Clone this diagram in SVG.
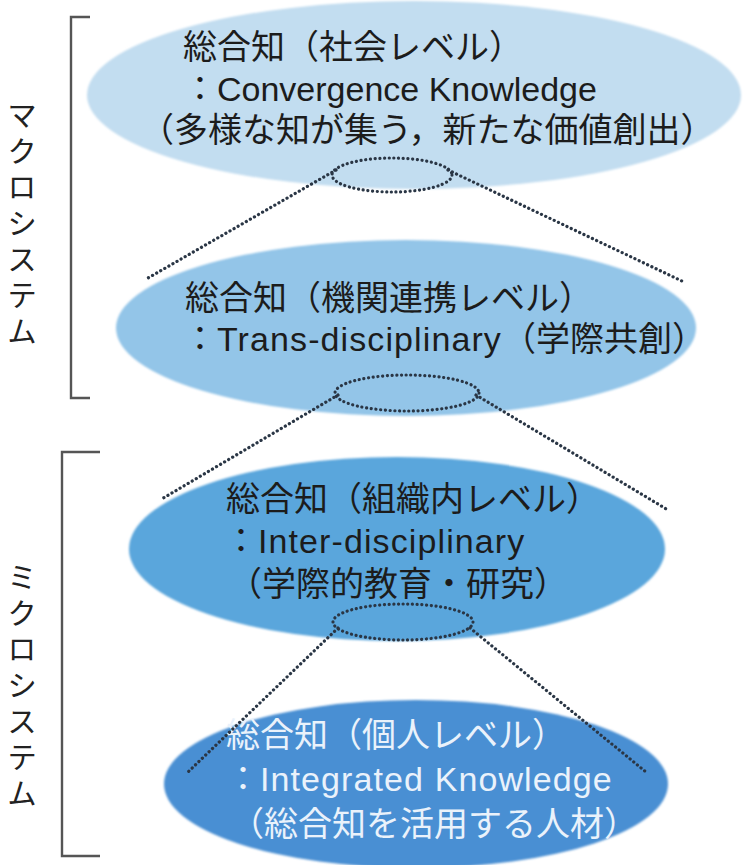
<svg xmlns="http://www.w3.org/2000/svg" width="743" height="865" viewBox="0 0 743 865">
  <style>
    .t { font-family: "Liberation Sans", "Noto Sans CJK JP", sans-serif; font-size: 34px; fill: #1c1c1c; }
    .w { fill: #eaf2fb; }
    .ls { letter-spacing: 1.1px; }
    .side { font-family: "Noto Sans CJK JP", sans-serif; font-size: 30px; fill: #222; }
    .dot { fill: none; stroke: #2a3645; stroke-width: 3.2; stroke-dasharray: 0.1 4.6; stroke-linecap: round; }
    .br { fill: none; stroke: #555; stroke-width: 2.4; }
  </style>
  <defs>
    <filter id="soft" x="-5%" y="-5%" width="110%" height="110%">
      <feGaussianBlur stdDeviation="1.2"/>
    </filter>
  </defs>
  <rect width="743" height="865" fill="#ffffff"/>

  <g id="bracket-macro">
    <path class="br" d="M90,17 H71 V398 H90"/>
    <text class="side" x="22" y="100" style="writing-mode: vertical-rl; letter-spacing: 6px;">マクロシステム</text>
  </g>
  <g id="bracket-micro">
    <path class="br" d="M100,452 H62 V856 H100"/>
    <text class="side" x="22" y="562" style="writing-mode: vertical-rl; letter-spacing: 6px;">ミクロシステム</text>
  </g>

  <g id="node-society">
    <ellipse cx="414" cy="95" rx="327" ry="94" fill="#c2ddf0" filter="url(#soft)"/>
    <text class="t" x="183" y="59">総合知（社会レベル）</text>
    <text class="t" x="183" y="101">：Convergence Knowledge</text>
    <text class="t" x="140" y="142">（多様な知が集う，新たな価値創出）</text>
  </g>

  <g id="node-institution">
    <ellipse cx="406" cy="328" rx="290" ry="88" fill="#93c5e8" filter="url(#soft)"/>
    <text class="t" x="185" y="310">総合知（機関連携レベル）</text>
    <text class="t" x="183" y="351">：<tspan class="ls">Trans-disciplinary</tspan>（学際共創）</text>
  </g>

  <g id="node-organization">
    <ellipse cx="397" cy="549" rx="268" ry="92" fill="#5aa6dc" filter="url(#soft)"/>
    <text class="t" x="226" y="511">総合知（組織内レベル）</text>
    <text class="t" x="224" y="553">：<tspan class="ls">Inter-disciplinary</tspan></text>
    <text class="t" x="228" y="596">（学際的教育・研究）</text>
  </g>

  <g id="node-individual">
    <ellipse cx="416" cy="784" rx="252" ry="84" fill="#4a8fd3" filter="url(#soft)"/>
    <text class="t w" x="226" y="747">総合知（個人レベル）</text>
    <text class="t w" x="226" y="791">：<tspan class="ls">Integrated Knowledge</tspan></text>
    <text class="t w" x="230" y="836">（総合知を活用する人材）</text>
  </g>

  <g id="connectors">
    <ellipse class="dot" cx="392" cy="175" rx="60" ry="17"/>
    <path class="dot" d="M336,170 L148,278"/>
    <path class="dot" d="M448,170 L684,282"/>
    <ellipse class="dot" cx="407" cy="393" rx="72" ry="18"/>
    <path class="dot" d="M338,395 L160,500"/>
    <path class="dot" d="M476,395 L668,510"/>
    <ellipse class="dot" cx="403" cy="622" rx="70" ry="18"/>
    <path class="dot" d="M338,628 L188,772"/>
    <path class="dot" d="M470,628 L646,772"/>
  </g>
</svg>
